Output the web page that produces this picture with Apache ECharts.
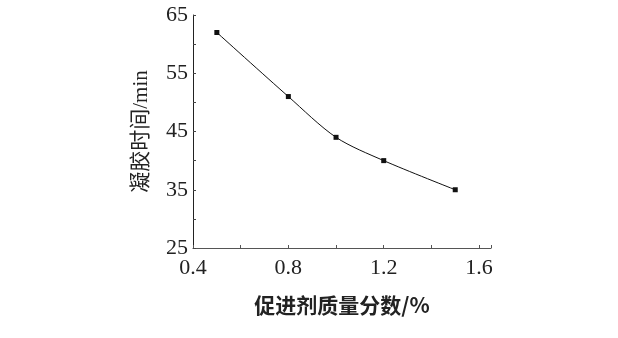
<!DOCTYPE html>
<html><head><meta charset="utf-8">
<script src="https://cdn.jsdelivr.net/npm/echarts@6/dist/echarts.min.js"></script>
<style>html,body{margin:0;padding:0;background:#fff}#c{width:618px;height:338px}</style>
</head><body><div id="c"></div>
<script>
const xValues = [0.5, 0.8, 1.0, 1.2, 1.5];
const gelTime = [62, 51, 44, 40, 35];
const xLabels = ['0.4', '0.8', '1.2', '1.6'];
const yLabels = ['25', '35', '45', '55', '65'];
const xName = '促进剂质量分数/%';
const yName = '凝胶时间/min';

const serif = '"Liberation Serif", "Noto Sans CJK SC", serif';
const chart = echarts.init(document.getElementById('c'), null, {renderer: 'canvas'});
chart.setOption({
  animation: false,
  backgroundColor: '#fff',
  grid: {left: 193, right: 127, top: 15, bottom: 90, containLabel: false},
  xAxis: {
    type: 'value', min: 0.4, max: 1.65, interval: 0.2,
    name: xName, nameLocation: 'middle', nameGap: 47,
    nameTextStyle: {fontFamily: '"Noto Sans CJK SC", sans-serif', fontSize: 21, fontWeight: 'bold', color: '#222'},
    axisLine: {lineStyle: {color: '#555', width: 1.2}},
    axisTick: {inside: true, length: 3, lineStyle: {color: '#555'}},
    splitLine: {show: false},
    axisLabel: {
      fontFamily: serif, fontSize: 22, color: '#222', margin: 9,
      formatter: v => { const s = (Math.round(v * 10) / 10).toFixed(1); return xLabels.includes(s) ? s : ''; }
    }
  },
  yAxis: {
    type: 'value', min: 25, max: 65, interval: 5,
    name: yName, nameLocation: 'middle', nameGap: 41, nameRotate: 90,
    nameTextStyle: {fontFamily: serif, fontSize: 21, color: '#222'},
    axisLine: {lineStyle: {color: '#222', width: 1}},
    axisTick: {inside: true, length: 3, lineStyle: {color: '#444'}},
    splitLine: {show: false},
    axisLabel: {
      fontFamily: serif, fontSize: 22, color: '#222', margin: 5,
      formatter: v => yLabels.includes(String(v)) ? String(v) : ''
    }
  },
  series: [{
    type: 'line',
    data: xValues.map((x, i) => [x, gelTime[i]]),
    smooth: 0.3,
    symbol: 'rect', symbolSize: 5,
    lineStyle: {color: '#111', width: 1},
    itemStyle: {color: '#111'}
  }]
});
</script></body></html>
